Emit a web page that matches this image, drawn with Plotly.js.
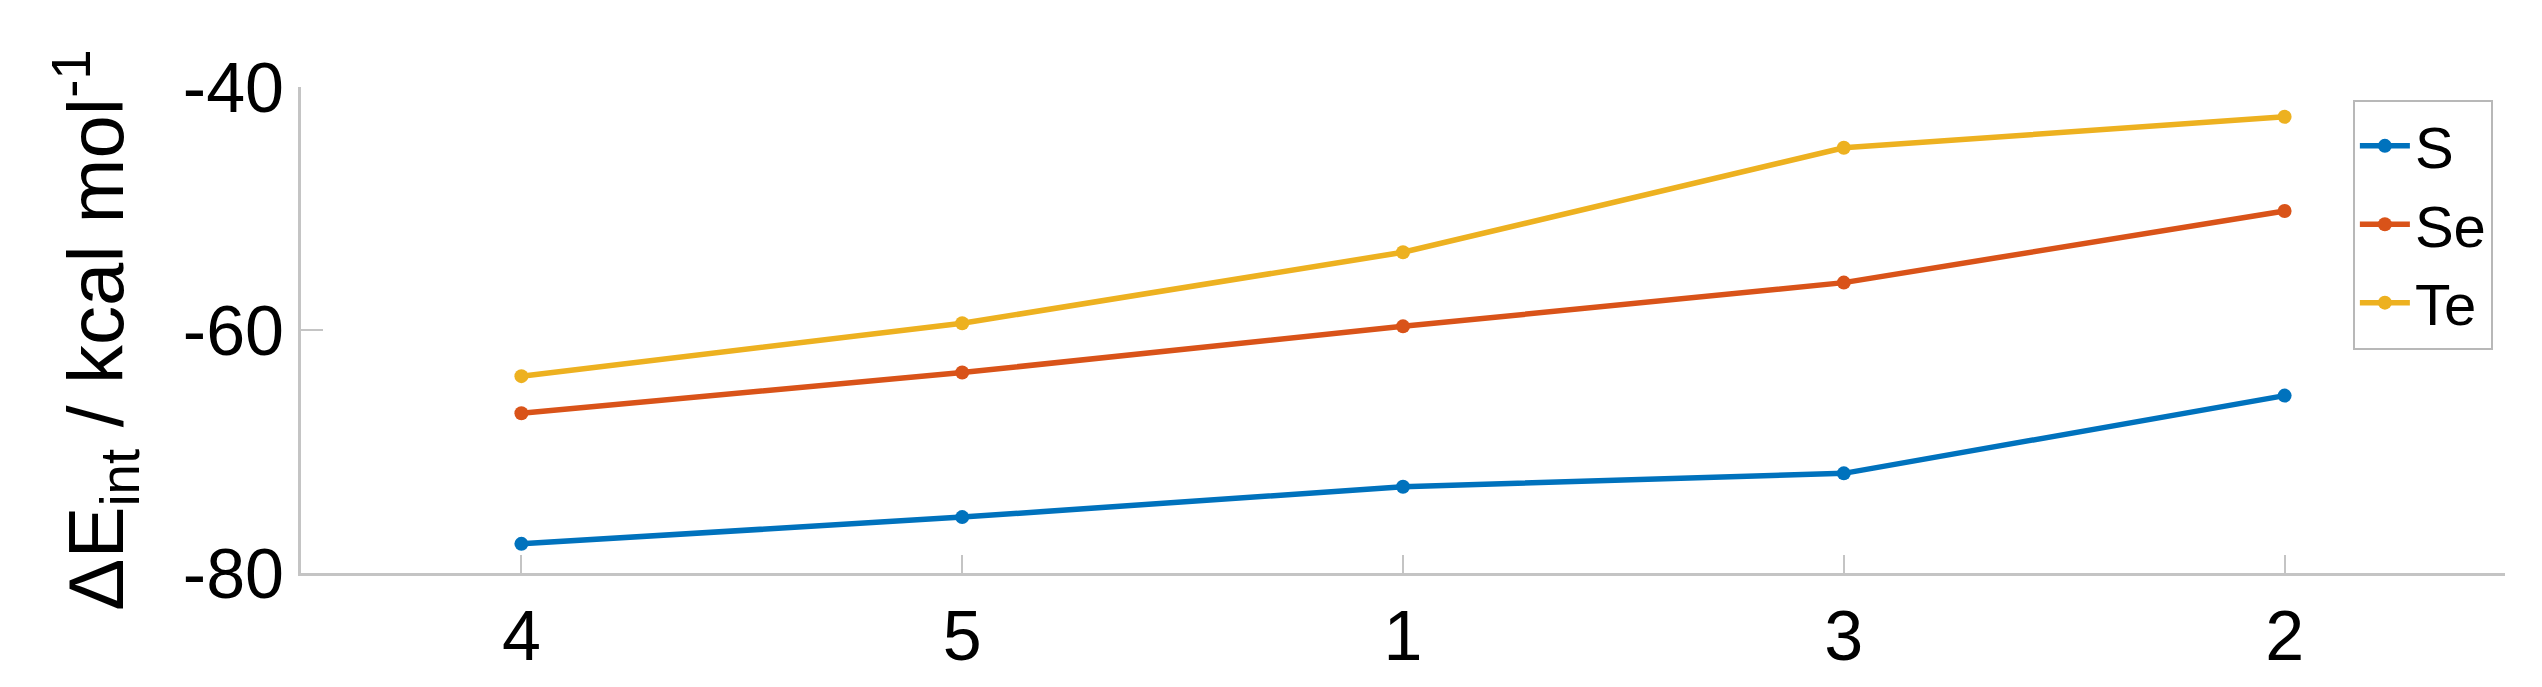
<!DOCTYPE html>
<html>
<head>
<meta charset="utf-8">
<script src="https://cdn.plot.ly/plotly-3.0.1.min.js"></script>
<style>html,body{margin:0;padding:0;background:#fff;}#chart{width:2542px;height:687px;}</style>
</head>
<body>
<div id="chart"></div>
<script>
const categories = ['4', '5', '1', '3', '2'];
const seriesNames = ['S', 'Se', 'Te'];
const valuesS = [-77.6, -75.4, -72.9, -71.8, -65.4];
const valuesSe = [-66.85, -63.5, -59.7, -56.1, -50.2];
const valuesTe = [-63.8, -59.45, -53.6, -45.0, -42.45];
const yTickValues = [-80, -60, -40];
const colors = ['#0072BD', '#D95319', '#EDB120'];

const seriesValues = [valuesS, valuesSe, valuesTe];
const traces = seriesNames.map((name, i) => ({
  type: 'scatter',
  mode: 'lines+markers',
  name: name,
  x: categories,
  y: seriesValues[i],
  line: {color: colors[i], width: 5.5},
  marker: {color: colors[i], size: 14}
}));

const font = 'Liberation Sans, Arial, Helvetica, sans-serif';
const layout = {
  width: 2542,
  height: 687,
  paper_bgcolor: '#ffffff',
  plot_bgcolor: '#ffffff',
  margin: {l: 301, r: 37, t: 87, b: 114, autoexpand: false},
  showlegend: true,
  legend: {
    x: 0.9945, y: 0.974, xanchor: 'right', yanchor: 'top',
    bgcolor: '#ffffff', bordercolor: '#b8b8b8', borderwidth: 2,
    font: {family: font, size: 58, color: '#000000'},
    itemwidth: 50
  },
  xaxis: {
    type: 'category',
    range: [-0.5, 4.5],
    showline: true, linecolor: '#c4c4c4', linewidth: 3,
    showgrid: false, zeroline: false,
    ticks: 'inside', ticklen: 18, tickwidth: 2, tickcolor: '#c4c4c4',
    tickfont: {family: font, size: 70, color: '#000000'},
    automargin: false
  },
  yaxis: {
    range: [-80, -40],
    tickvals: yTickValues,
    ticktext: yTickValues.map(String),
    showline: true, linecolor: '#c4c4c4', linewidth: 3,
    showgrid: false, zeroline: false,
    ticks: 'inside', ticklen: 22, tickwidth: 2, tickcolor: '#c4c4c4',
    tickfont: {family: font, size: 70, color: '#000000'},
    automargin: false,
    title: {
      text: 'ΔE<sub>int</sub> / kcal mol<sup>-1</sup>',
      font: {family: font, size: 78, color: '#000000'},
      standoff: 34
    }
  }
};

Plotly.newPlot('chart', traces, layout, {staticPlot: true, displayModeBar: false});
</script>
</body>
</html>
